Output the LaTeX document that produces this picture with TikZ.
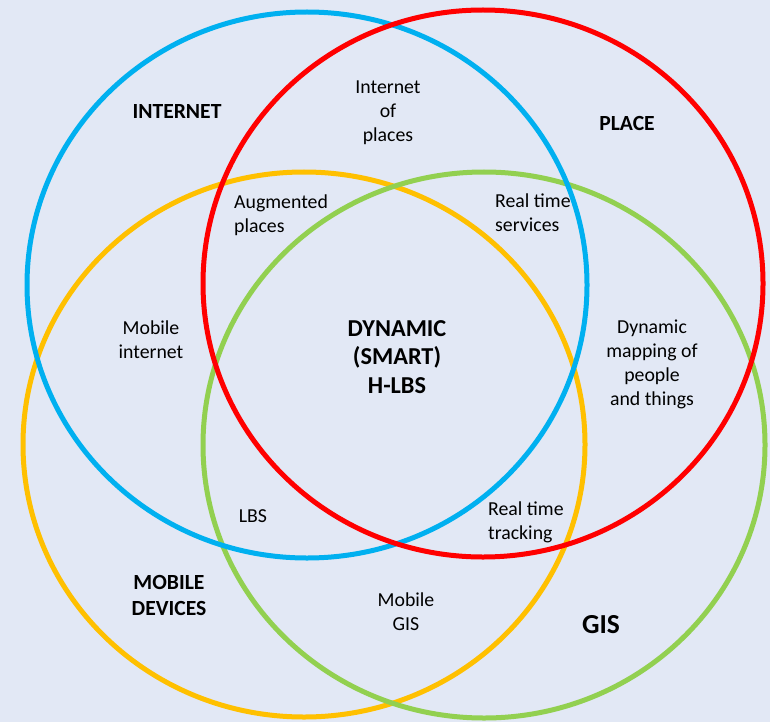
\documentclass[tikz,border=0pt]{standalone}
\usepackage{fontspec}
\setmainfont{Carlito}
\definecolor{bgc}{HTML}{E2E8F5}
\definecolor{cblue}{HTML}{00B0F0}
\definecolor{cred}{HTML}{FF0000}
\definecolor{corange}{HTML}{FFC000}
\definecolor{cgreen}{HTML}{92D050}
\begin{document}
\begin{tikzpicture}[x=1pt,y=-1pt,
  ring/.style={line width=5pt},
  lbl/.style={inner sep=0pt, align=center, font=\fontsize{19.8}{24}\selectfont},
  lbll/.style={inner sep=0pt, align=left, anchor=west, font=\fontsize{19.8}{24}\selectfont},
  head/.style={inner sep=0pt, align=center, font=\fontsize{21.6}{26}\selectfont\bfseries},
  core/.style={inner sep=0pt, align=center, font=\fontsize{24.3}{28.5}\selectfont\bfseries}]
\fill[bgc] (0,0) rectangle (770,722);
\useasboundingbox (0,0) rectangle (770,722);
\draw[ring, corange] (304,444.5) ellipse [x radius=281pt, y radius=272.5pt];
\draw[ring, cgreen] (484,445) ellipse [x radius=281pt, y radius=273pt];
\draw[ring, cblue] (307,285) ellipse [x radius=280pt, y radius=273pt];
\draw[ring, cred] (483,283.5) ellipse [x radius=280pt, y radius=273.5pt];
\node[head] (internet) at (177,111) {INTERNET};
\node[head] (place) at (627,123) {PLACE};
\node[head] (mobdev) at (169,595) {MOBILE\\DEVICES};
\node[inner sep=0pt, font=\fontsize{27.5}{30}\selectfont\bfseries] (gis) at (601,625) {GIS};
\node[lbl] (iop) at (388,113) {Internet\\of\\places};
\node[lbll] (aug) at (234,215) {Augmented\\places};
\node[lbll] (rts) at (495,213) {Real time\\services};
\node[lbl] (mi) at (151,340) {Mobile\\internet};
\node[core] (core) at (397,357) {DYNAMIC\\(SMART)\\H-LBS};
\node[lbl] (dmp) at (652,364) {Dynamic\\mapping of\\people\\and things};
\node[lbl] (lbs) at (253,516) {LBS};
\node[lbll] (rtt) at (488,522) {Real time\\tracking};
\node[lbl] (mgis) at (406,612) {Mobile\\GIS};
\end{tikzpicture}
\end{document}
